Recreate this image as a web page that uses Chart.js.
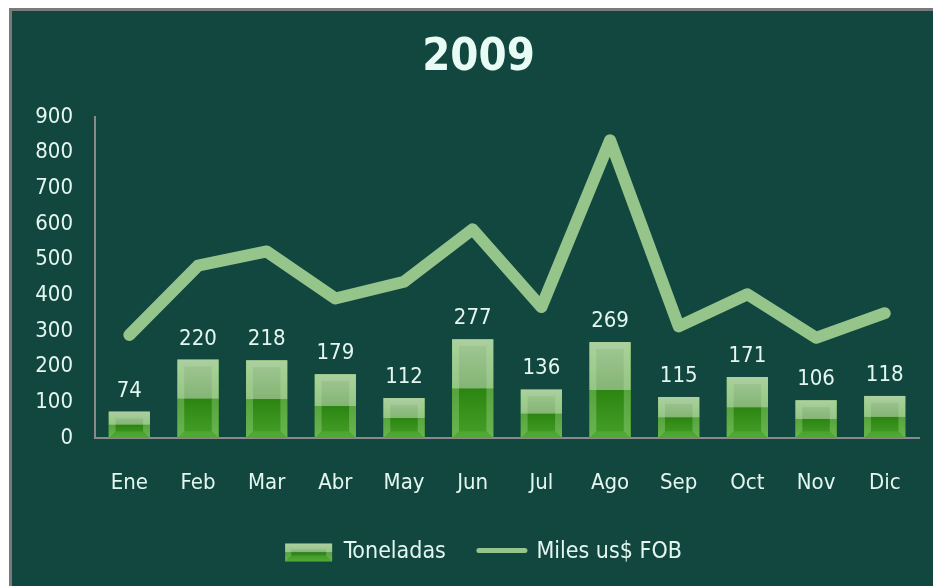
<!DOCTYPE html>
<html><head><meta charset="utf-8">
<script src="https://cdn.jsdelivr.net/npm/chart.js@4"></script>
<style>
html,body{margin:0;padding:0;background:#fff;width:933px;height:586px;overflow:hidden}
#bg{position:absolute;left:9px;top:8px;right:0;bottom:0;background:#12473f;border-left:3px solid #7a7a7a;border-top:3px solid #7a7a7a}
#wrap{position:absolute;left:0;top:0;width:933px;height:586px}
</style></head><body>
<div id="bg"></div>
<div id="wrap"><canvas id="c" width="933" height="586"></canvas></div>
<script>
const chartTitle = '2009';
const categories = ['Ene','Feb','Mar','Abr','May','Jun','Jul','Ago','Sep','Oct','Nov','Dic'];
const seriesNames = ['Toneladas','Miles us$ FOB'];
const toneladas = [74,220,218,179,112,277,136,269,115,171,106,118];
const milesFOB = [289,483,523,391,438,585,367,835,313,403,281,350];
const yTicks = [0,100,200,300,400,500,600,700,800,900];

const FONT = "'DejaVu Sans Condensed','Liberation Sans Narrow','DejaVu Sans',sans-serif";
const TXT = '#e4f6f0';
const LINE = '#95c58b';

function poly(ctx, pts){ctx.beginPath();ctx.moveTo(pts[0],pts[1]);for(let i=2;i<pts.length;i+=2)ctx.lineTo(pts[i],pts[i+1]);ctx.closePath();ctx.fill();}
function paintBar(ctx,l,t,w,h){
  if(h<=0)return;
  const b=t+h, mid=t+h*0.5, r=l+w;
  ctx.save();
  let g=ctx.createLinearGradient(0,t,0,mid);
  g.addColorStop(0,'#a2c895');g.addColorStop(1,'#84b575');
  ctx.fillStyle=g;ctx.fillRect(l,t,w,mid-t);
  g=ctx.createLinearGradient(0,mid,0,b);
  g.addColorStop(0,'#2c8510');g.addColorStop(1,'#45a02a');
  ctx.fillStyle=g;ctx.fillRect(l,mid,w,b-mid);
  const e=Math.min(7,w/6,h/3);
  ctx.fillStyle='rgba(190,235,170,0.30)';
  poly(ctx,[l,t,l+e,t+e,l+e,b-e,l,b]);
  poly(ctx,[r,t,r-e,t+e,r-e,b-e,r,b]);
  ctx.fillStyle='rgba(220,245,210,0.18)';
  poly(ctx,[l,t,r,t,r-e,t+e,l+e,t+e]);
  ctx.fillStyle='rgba(120,200,90,0.25)';
  poly(ctx,[l,b,r,b,r-e,b-e,l+e,b-e]);
  ctx.restore();
}

const barPainter={id:'barPainter',afterDatasetDraw(chart,args){
  if(args.meta.type!=='bar')return;
  const ctx=chart.ctx;
  args.meta.data.forEach(el=>{
    const p=el.getProps(['x','y','base','width'],true);
    paintBar(ctx,p.x-p.width/2,Math.min(p.y,p.base),p.width,Math.abs(p.base-p.y));
  });
}};
const dataLabels={id:'dataLabels',afterDatasetsDraw(chart){
  const ctx=chart.ctx, meta=chart.getDatasetMeta(0);
  ctx.save();ctx.font='22px '+FONT;ctx.fillStyle=TXT;ctx.textAlign='center';ctx.textBaseline='alphabetic';
  meta.data.forEach((el,i)=>{const p=el.getProps(['x','y'],true);ctx.fillText(String(toneladas[i]),p.x,p.y-15);});
  ctx.restore();
}};
const legendShift={id:'legendShift',afterLayout(chart){
  const lg=chart.legend; if(!lg)return; lg.left+=5; lg.right+=5;
}};
const legendSwatch={id:'legendSwatch',afterDraw(chart){
  const lg=chart.legend; if(!lg||!lg.legendHitBoxes)return;
  const ctx=chart.ctx, hb=lg.legendHitBoxes, fs=23, bh=18, bw=47;
  const h0=hb[0]; paintBar(ctx,h0.left,h0.top+Math.max((fs-bh)/2,0),bw,bh);
  const h1=hb[1]; const cy=h1.top+Math.max(fs,bh)/2-2;
  ctx.save();ctx.strokeStyle=LINE;ctx.lineWidth=5;ctx.lineCap='round';
  ctx.beginPath();ctx.moveTo(h1.left+1,cy);ctx.lineTo(h1.left+bw,cy);ctx.stroke();ctx.restore();
}};

new Chart(document.getElementById('c'),{
  data:{labels:categories,datasets:[
    {type:'bar',label:seriesNames[0],data:toneladas,backgroundColor:'#3f9a22',borderWidth:0,categoryPercentage:1,barPercentage:0.6},
    {type:'line',label:seriesNames[1],data:milesFOB,borderColor:LINE,borderWidth:12,pointRadius:0,borderCapStyle:'round',borderJoinStyle:'round',tension:0,fill:false}
  ]},
  options:{
    responsive:false,animation:false,devicePixelRatio:1,
    layout:{padding:{left:35,right:11,top:31,bottom:12}},
    scales:{
      x:{grid:{display:false,drawTicks:false},border:{display:true,color:'#8a8a8a',width:2},
        ticks:{color:TXT,font:{family:FONT,size:22},padding:32},
        afterFit(s){s.height=71;}},
      y:{min:0,max:900,grid:{display:false,drawTicks:false},border:{display:true,color:'#8a8a8a',width:2},
        afterBuildTicks(s){s.ticks=yTicks.map(v=>({value:v}));},
        ticks:{color:TXT,font:{family:FONT,size:22},padding:22,stepSize:100},
        afterFit(s){s.width=60;}}
    },
    plugins:{
      title:{display:true,text:chartTitle,color:'#e8fbf5',font:{family:FONT,size:45,weight:'bold'},padding:{top:0,bottom:32}},
      legend:{position:'bottom',labels:{color:TXT,font:{family:FONT,size:23},boxWidth:47,boxHeight:18,padding:32,
        generateLabels(chart){const items=Chart.defaults.plugins.legend.labels.generateLabels(chart);
          items.forEach(it=>{it.fillStyle='rgba(0,0,0,0)';it.strokeStyle='rgba(0,0,0,0)';it.lineWidth=0;});return items;}}},
      tooltip:{enabled:false}
    }
  },
  plugins:[legendShift,barPainter,dataLabels,legendSwatch]
});
</script>
</body></html>
